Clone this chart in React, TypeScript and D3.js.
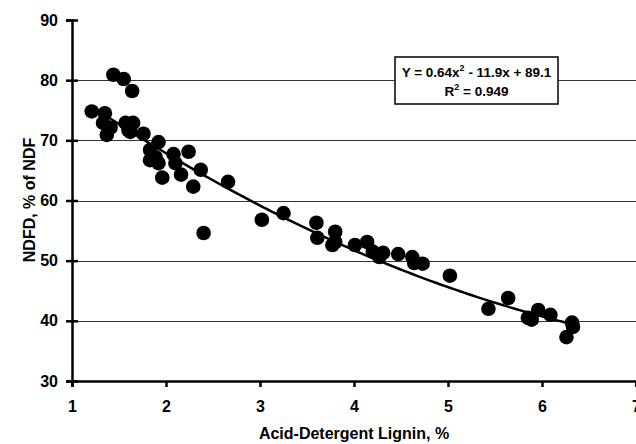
import React, { useRef, useEffect } from "react";
import * as d3 from "d3";

// acid-detergent lignin (%) vs NDFD (% of NDF)
const adl = [
  1.21, 1.35, 1.33, 1.41, 1.37, 1.44, 1.55, 1.64, 1.57, 1.65, 1.6, 1.62, 1.76,
  1.92, 1.83, 1.83, 1.89, 2.08, 2.24, 1.92, 2.1, 1.96, 2.16, 2.37, 2.29, 2.66,
  2.4, 3.02, 3.25, 3.6, 3.61, 3.77, 3.8, 3.8, 4.01, 4.14, 4.2, 4.27, 4.31,
  4.47, 4.62, 4.64, 4.73, 5.02, 5.43, 5.64, 5.85, 5.89, 5.96, 6.09, 6.32, 6.33,
  6.26,
];
const ndfd = [
  74.8, 74.5, 72.9, 72.1, 70.9, 80.9, 80.2, 78.2, 72.9, 72.9, 71.7, 71.4, 71.1,
  69.7, 68.4, 66.7, 67.2, 67.7, 68.1, 66.2, 66.2, 63.8, 64.3, 65.1, 62.3, 63.1,
  54.6, 56.8, 57.9, 56.3, 53.8, 52.6, 54.8, 53.1, 52.6, 53.1, 51.5, 50.6, 51.3,
  51.1, 50.6, 49.6, 49.5, 47.5, 42.0, 43.8, 40.5, 40.2, 41.8, 41.0, 39.7, 39.0,
  37.3,
];
const xTicks = [1, 2, 3, 4, 5, 6, 7];
const yTicks = [30, 40, 50, 60, 70, 80, 90];
const fitCoef = [0.64, -11.9, 89.1];
const fitRange = [1.22, 6.33];

const App = () => {
  const svgRef = useRef(null);

  useEffect(() => {
    document.body.style.margin = "0";
    const svg = d3.select(svgRef.current);
    svg.selectAll("*").remove();

    const x = d3.scaleLinear().domain([1, 7]).range([72, 636]);
    const y = d3.scaleLinear().domain([30, 90]).range([381, 20]);
    const font = "Liberation Sans, Arial, sans-serif";

    // gridlines
    svg
      .append("g")
      .selectAll("line")
      .data(yTicks.filter((t) => t > 30 && t < 90))
      .enter()
      .append("line")
      .attr("x1", x(1))
      .attr("x2", 636)
      .attr("y1", (d) => Math.round(y(d)) + 0.5)
      .attr("y2", (d) => Math.round(y(d)) + 0.5)
      .attr("stroke", "#333")
      .attr("stroke-width", 1);

    // fitted curve
    const fx = d3.range(fitRange[0], fitRange[1] + 0.001, 0.05);
    const line = d3
      .line()
      .x((d) => x(d))
      .y((d) => y(fitCoef[0] * d * d + fitCoef[1] * d + fitCoef[2]));
    svg
      .append("path")
      .attr("d", line(fx))
      .attr("fill", "none")
      .attr("stroke", "#000")
      .attr("stroke-width", 2.5);

    // points
    svg
      .append("g")
      .selectAll("circle")
      .data(adl.map((v, i) => [v, ndfd[i]]))
      .enter()
      .append("circle")
      .attr("cx", (d) => x(d[0]))
      .attr("cy", (d) => y(d[1]))
      .attr("r", 7.3)
      .attr("fill", "#000");

    // axes
    const yAxis = svg.append("g").attr("transform", `translate(${x(1)},0)`);
    yAxis
      .call(
        d3.axisLeft(y).tickValues(yTicks).tickFormat(d3.format("d")).tickSize(6).tickPadding(8)
      )
      .call((g) => g.select(".domain").attr("stroke-width", 2.5))
      .call((g) => g.selectAll(".tick line").attr("x1", 6));
    const xAxis = svg.append("g").attr("transform", `translate(0,${y(30)})`);
    xAxis
      .call(
        d3.axisBottom(x).tickValues(xTicks).tickFormat(d3.format("d")).tickSize(6).tickPadding(14)
      )
      .call((g) => g.select(".domain").attr("stroke-width", 2.5));
    svg
      .selectAll(".tick line")
      .attr("stroke", "#000")
      .attr("stroke-width", 2.5);
    svg
      .selectAll(".tick text")
      .attr("font-family", font)
      .attr("font-weight", "bold")
      .attr("font-size", 16)
      .attr("fill", "#000");

    // axis titles
    svg
      .append("text")
      .attr("x", 354)
      .attr("y", 439)
      .attr("text-anchor", "middle")
      .attr("font-family", font)
      .attr("font-weight", "bold")
      .attr("font-size", 16)
      .text("Acid-Detergent Lignin, %");
    svg
      .append("text")
      .attr("transform", "translate(35,200) rotate(-90)")
      .attr("text-anchor", "middle")
      .attr("font-family", font)
      .attr("font-weight", "bold")
      .attr("font-size", 16)
      .text("NDFD, % of NDF");

    // equation box
    const box = svg.append("g");
    box
      .append("rect")
      .attr("x", 395)
      .attr("y", 57)
      .attr("width", 163)
      .attr("height", 47)
      .attr("fill", "#fff")
      .attr("stroke", "#000")
      .attr("stroke-width", 1.5);
    const eq = box
      .append("text")
      .attr("x", 476.5)
      .attr("y", 77)
      .attr("text-anchor", "middle")
      .attr("font-family", font)
      .attr("font-weight", "bold")
      .attr("font-size", 13.5);
    eq.append("tspan").text("Y = 0.64x");
    eq.append("tspan").attr("dy", -6).attr("font-size", 9).text("2");
    eq.append("tspan").attr("dy", 6).text(" - 11.9x + 89.1");
    const r2 = box
      .append("text")
      .attr("x", 476.5)
      .attr("y", 96)
      .attr("text-anchor", "middle")
      .attr("font-family", font)
      .attr("font-weight", "bold")
      .attr("font-size", 13.5);
    r2.append("tspan").text("R");
    r2.append("tspan").attr("dy", -6).attr("font-size", 9).text("2");
    r2.append("tspan").attr("dy", 6).text(" = 0.949");
  }, []);

  return (
    <div style={{ width: 636, height: 444, background: "#fff" }}>
      <svg ref={svgRef} width={636} height={444} style={{ display: "block" }}></svg>
    </div>
  );
};

export default App;
